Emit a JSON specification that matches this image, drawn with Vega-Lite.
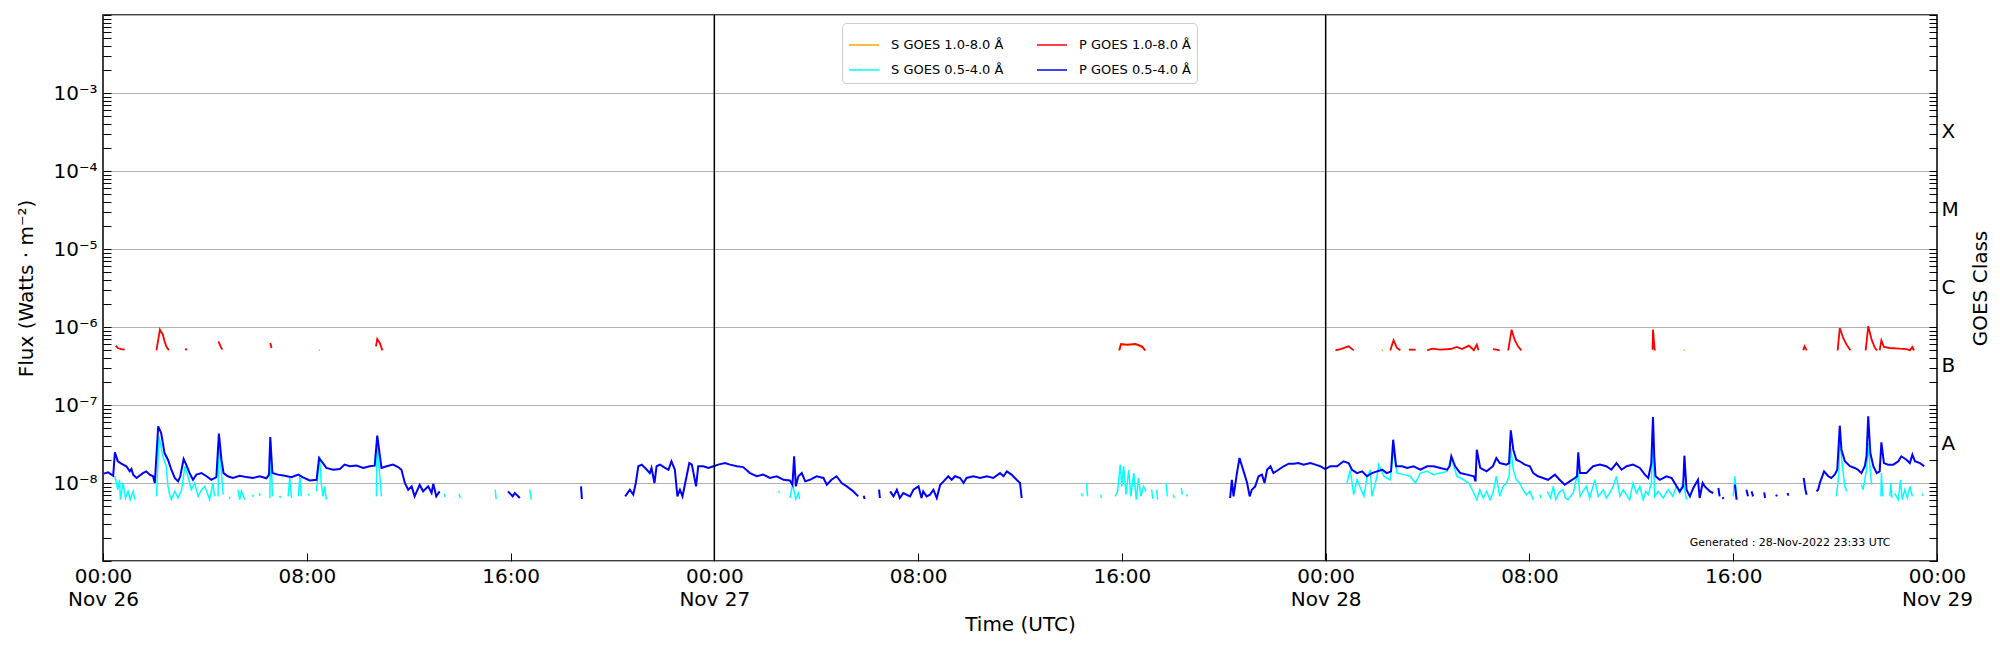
{
  "$schema": "https://vega.github.io/schema/vega-lite/v6.json",
  "width": 1834,
  "height": 546,
  "autosize": {"type": "none"},
  "padding": {"left": 103, "top": 15, "right": 63, "bottom": 89},
  "config": {
    "font": "DejaVu Sans",
    "view": {"stroke": "black", "strokeWidth": 1.5},
    "axis": {"labelColor": "black", "titleColor": "black", "tickColor": "black", "domain": false, "titleFontWeight": "normal", "labelOverlap": false, "labelBound": false}
  },
  "data": {
    "values": [
      {"s":"P054","g":1,"t":"2022-11-26T00:02:00Z","f":1.32e-8},
      {"s":"P054","g":1,"t":"2022-11-26T00:12:00Z","f":1.37e-8},
      {"s":"P054","g":1,"t":"2022-11-26T00:24:00Z","f":1.24e-8},
      {"s":"P054","g":1,"t":"2022-11-26T00:28:00Z","f":2.47e-8},
      {"s":"P054","g":1,"t":"2022-11-26T00:35:00Z","f":1.9e-8},
      {"s":"P054","g":1,"t":"2022-11-26T00:43:00Z","f":1.77e-8},
      {"s":"P054","g":1,"t":"2022-11-26T00:55:00Z","f":1.64e-8},
      {"s":"P054","g":1,"t":"2022-11-26T01:03:00Z","f":1.41e-8},
      {"s":"P054","g":1,"t":"2022-11-26T01:07:00Z","f":1.51e-8},
      {"s":"P054","g":1,"t":"2022-11-26T01:11:00Z","f":1.28e-8},
      {"s":"P054","g":1,"t":"2022-11-26T01:19:00Z","f":1.16e-8},
      {"s":"P054","g":1,"t":"2022-11-26T01:26:00Z","f":1.24e-8},
      {"s":"P054","g":1,"t":"2022-11-26T01:34:00Z","f":1.34e-8},
      {"s":"P054","g":1,"t":"2022-11-26T01:42:00Z","f":1.41e-8},
      {"s":"P054","g":1,"t":"2022-11-26T01:50:00Z","f":1.28e-8},
      {"s":"P054","g":1,"t":"2022-11-26T01:58:00Z","f":1.22e-8},
      {"s":"P054","g":1,"t":"2022-11-26T02:02:00Z","f":1.0e-8},
      {"s":"P054","g":1,"t":"2022-11-26T02:10:00Z","f":5.33e-8},
      {"s":"P054","g":1,"t":"2022-11-26T02:17:00Z","f":4.38e-8},
      {"s":"P054","g":1,"t":"2022-11-26T02:25:00Z","f":2.42e-8},
      {"s":"P054","g":1,"t":"2022-11-26T02:33:00Z","f":1.99e-8},
      {"s":"P054","g":1,"t":"2022-11-26T02:41:00Z","f":1.48e-8},
      {"s":"P054","g":1,"t":"2022-11-26T02:49:00Z","f":1.16e-8},
      {"s":"P054","g":1,"t":"2022-11-26T02:57:00Z","f":1.05e-8},
      {"s":"P054","g":1,"t":"2022-11-26T03:02:00Z","f":1.22e-8},
      {"s":"P054","g":1,"t":"2022-11-26T03:10:00Z","f":2.03e-8},
      {"s":"P054","g":1,"t":"2022-11-26T03:16:00Z","f":1.72e-8},
      {"s":"P054","g":1,"t":"2022-11-26T03:24:00Z","f":1.34e-8},
      {"s":"P054","g":1,"t":"2022-11-26T03:32:00Z","f":1.1e-8},
      {"s":"P054","g":1,"t":"2022-11-26T03:40:00Z","f":1.28e-8},
      {"s":"P054","g":1,"t":"2022-11-26T03:52:00Z","f":1.34e-8},
      {"s":"P054","g":1,"t":"2022-11-26T04:04:00Z","f":1.22e-8},
      {"s":"P054","g":1,"t":"2022-11-26T04:15:00Z","f":1.1e-8},
      {"s":"P054","g":1,"t":"2022-11-26T04:27:00Z","f":1.19e-8},
      {"s":"P054","g":1,"t":"2022-11-26T04:33:00Z","f":4.29e-8},
      {"s":"P054","g":1,"t":"2022-11-26T04:39:00Z","f":1.99e-8},
      {"s":"P054","g":1,"t":"2022-11-26T04:44:00Z","f":1.34e-8},
      {"s":"P054","g":1,"t":"2022-11-26T04:54:00Z","f":1.22e-8},
      {"s":"P054","g":1,"t":"2022-11-26T05:06:00Z","f":1.16e-8},
      {"s":"P054","g":1,"t":"2022-11-26T05:22:00Z","f":1.24e-8},
      {"s":"P054","g":1,"t":"2022-11-26T05:38:00Z","f":1.19e-8},
      {"s":"P054","g":1,"t":"2022-11-26T05:53:00Z","f":1.16e-8},
      {"s":"P054","g":1,"t":"2022-11-26T06:09:00Z","f":1.22e-8},
      {"s":"P054","g":1,"t":"2022-11-26T06:25:00Z","f":1.15e-8},
      {"s":"P054","g":1,"t":"2022-11-26T06:31:00Z","f":1.28e-8},
      {"s":"P054","g":1,"t":"2022-11-26T06:34:00Z","f":3.89e-8},
      {"s":"P054","g":1,"t":"2022-11-26T06:39:00Z","f":1.34e-8},
      {"s":"P054","g":1,"t":"2022-11-26T06:52:00Z","f":1.28e-8},
      {"s":"P054","g":1,"t":"2022-11-26T07:08:00Z","f":1.24e-8},
      {"s":"P054","g":1,"t":"2022-11-26T07:24:00Z","f":1.19e-8},
      {"s":"P054","g":1,"t":"2022-11-26T07:40:00Z","f":1.28e-8},
      {"s":"P054","g":1,"t":"2022-11-26T07:51:00Z","f":1.18e-8},
      {"s":"P054","g":1,"t":"2022-11-26T08:07:00Z","f":1.08e-8},
      {"s":"P054","g":1,"t":"2022-11-26T08:23:00Z","f":1.1e-8},
      {"s":"P054","g":1,"t":"2022-11-26T08:29:00Z","f":2.09e-8},
      {"s":"P054","g":1,"t":"2022-11-26T08:38:00Z","f":1.8e-8},
      {"s":"P054","g":1,"t":"2022-11-26T08:46:00Z","f":1.56e-8},
      {"s":"P054","g":1,"t":"2022-11-26T09:02:00Z","f":1.48e-8},
      {"s":"P054","g":1,"t":"2022-11-26T09:18:00Z","f":1.51e-8},
      {"s":"P054","g":1,"t":"2022-11-26T09:29:00Z","f":1.72e-8},
      {"s":"P054","g":1,"t":"2022-11-26T09:41:00Z","f":1.64e-8},
      {"s":"P054","g":1,"t":"2022-11-26T09:57:00Z","f":1.67e-8},
      {"s":"P054","g":1,"t":"2022-11-26T10:13:00Z","f":1.56e-8},
      {"s":"P054","g":1,"t":"2022-11-26T10:28:00Z","f":1.64e-8},
      {"s":"P054","g":1,"t":"2022-11-26T10:40:00Z","f":1.67e-8},
      {"s":"P054","g":1,"t":"2022-11-26T10:46:00Z","f":4.04e-8},
      {"s":"P054","g":1,"t":"2022-11-26T10:56:00Z","f":1.56e-8},
      {"s":"P054","g":1,"t":"2022-11-26T11:08:00Z","f":1.64e-8},
      {"s":"P054","g":1,"t":"2022-11-26T11:23:00Z","f":1.72e-8},
      {"s":"P054","g":1,"t":"2022-11-26T11:35:00Z","f":1.6e-8},
      {"s":"P054","g":1,"t":"2022-11-26T11:43:00Z","f":1.48e-8},
      {"s":"P054","g":1,"t":"2022-11-26T11:51:00Z","f":1.0e-8},
      {"s":"P054","g":1,"t":"2022-11-26T11:59:00Z","f":8.2e-9},
      {"s":"P054","g":1,"t":"2022-11-26T12:07:00Z","f":9.06e-9},
      {"s":"P054","g":1,"t":"2022-11-26T12:14:00Z","f":6.74e-9},
      {"s":"P054","g":1,"t":"2022-11-26T12:26:00Z","f":9.5e-9},
      {"s":"P054","g":1,"t":"2022-11-26T12:34:00Z","f":7.82e-9},
      {"s":"P054","g":1,"t":"2022-11-26T12:46:00Z","f":9.06e-9},
      {"s":"P054","g":1,"t":"2022-11-26T12:54:00Z","f":7.44e-9},
      {"s":"P054","g":1,"t":"2022-11-26T12:58:00Z","f":9.8e-9},
      {"s":"P054","g":1,"t":"2022-11-26T13:05:00Z","f":6.74e-9},
      {"s":"P054","g":1,"t":"2022-11-26T13:13:00Z","f":7.82e-9},
      {"s":"P054","g":2,"t":"2022-11-26T15:54:00Z","f":7.82e-9},
      {"s":"P054","g":2,"t":"2022-11-26T16:05:00Z","f":6.74e-9},
      {"s":"P054","g":2,"t":"2022-11-26T16:10:00Z","f":7.44e-9},
      {"s":"P054","g":2,"t":"2022-11-26T16:22:00Z","f":6.42e-9},
      {"s":"P054","g":3,"t":"2022-11-26T18:46:00Z","f":9.06e-9},
      {"s":"P054","g":3,"t":"2022-11-26T18:48:00Z","f":6.24e-9},
      {"s":"P054","g":4,"t":"2022-11-26T20:30:00Z","f":6.74e-9},
      {"s":"P054","g":4,"t":"2022-11-26T20:41:00Z","f":8.2e-9},
      {"s":"P054","g":4,"t":"2022-11-26T20:49:00Z","f":7.09e-9},
      {"s":"P054","g":4,"t":"2022-11-26T20:55:00Z","f":1.0e-8},
      {"s":"P054","g":4,"t":"2022-11-26T21:01:00Z","f":1.64e-8},
      {"s":"P054","g":4,"t":"2022-11-26T21:09:00Z","f":1.72e-8},
      {"s":"P054","g":4,"t":"2022-11-26T21:21:00Z","f":1.48e-8},
      {"s":"P054","g":4,"t":"2022-11-26T21:28:00Z","f":1.34e-8},
      {"s":"P054","g":4,"t":"2022-11-26T21:32:00Z","f":1.56e-8},
      {"s":"P054","g":4,"t":"2022-11-26T21:39:00Z","f":1.0e-8},
      {"s":"P054","g":4,"t":"2022-11-26T21:44:00Z","f":1.64e-8},
      {"s":"P054","g":4,"t":"2022-11-26T21:52:00Z","f":1.72e-8},
      {"s":"P054","g":4,"t":"2022-11-26T22:04:00Z","f":1.56e-8},
      {"s":"P054","g":4,"t":"2022-11-26T22:12:00Z","f":1.48e-8},
      {"s":"P054","g":4,"t":"2022-11-26T22:19:00Z","f":1.9e-8},
      {"s":"P054","g":4,"t":"2022-11-26T22:27:00Z","f":1.48e-8},
      {"s":"P054","g":4,"t":"2022-11-26T22:33:00Z","f":6.74e-9},
      {"s":"P054","g":4,"t":"2022-11-26T22:39:00Z","f":8.2e-9},
      {"s":"P054","g":4,"t":"2022-11-26T22:45:00Z","f":6.74e-9},
      {"s":"P054","g":4,"t":"2022-11-26T22:53:00Z","f":1.1e-8},
      {"s":"P054","g":4,"t":"2022-11-26T23:01:00Z","f":1.8e-8},
      {"s":"P054","g":4,"t":"2022-11-26T23:07:00Z","f":1.72e-8},
      {"s":"P054","g":4,"t":"2022-11-26T23:17:00Z","f":9.06e-9},
      {"s":"P054","g":4,"t":"2022-11-26T23:22:00Z","f":1.64e-8},
      {"s":"P054","g":4,"t":"2022-11-26T23:34:00Z","f":1.64e-8},
      {"s":"P054","g":4,"t":"2022-11-26T23:46:00Z","f":1.56e-8},
      {"s":"P054","g":4,"t":"2022-11-26T23:58:00Z","f":1.64e-8},
      {"s":"P054","g":4,"t":"2022-11-27T00:09:00Z","f":1.72e-8},
      {"s":"P054","g":4,"t":"2022-11-27T00:25:00Z","f":1.8e-8},
      {"s":"P054","g":4,"t":"2022-11-27T00:37:00Z","f":1.72e-8},
      {"s":"P054","g":4,"t":"2022-11-27T00:53:00Z","f":1.64e-8},
      {"s":"P054","g":4,"t":"2022-11-27T01:08:00Z","f":1.6e-8},
      {"s":"P054","g":4,"t":"2022-11-27T01:24:00Z","f":1.34e-8},
      {"s":"P054","g":4,"t":"2022-11-27T01:40:00Z","f":1.22e-8},
      {"s":"P054","g":4,"t":"2022-11-27T01:55:00Z","f":1.28e-8},
      {"s":"P054","g":4,"t":"2022-11-27T02:11:00Z","f":1.16e-8},
      {"s":"P054","g":4,"t":"2022-11-27T02:27:00Z","f":1.22e-8},
      {"s":"P054","g":4,"t":"2022-11-27T02:43:00Z","f":1.1e-8},
      {"s":"P054","g":4,"t":"2022-11-27T02:58:00Z","f":1.08e-8},
      {"s":"P054","g":4,"t":"2022-11-27T03:04:00Z","f":9.5e-9},
      {"s":"P054","g":4,"t":"2022-11-27T03:08:00Z","f":2.2e-8},
      {"s":"P054","g":4,"t":"2022-11-27T03:12:00Z","f":9.06e-9},
      {"s":"P054","g":4,"t":"2022-11-27T03:18:00Z","f":1.22e-8},
      {"s":"P054","g":4,"t":"2022-11-27T03:26:00Z","f":1.34e-8},
      {"s":"P054","g":4,"t":"2022-11-27T03:34:00Z","f":1.05e-8},
      {"s":"P054","g":4,"t":"2022-11-27T03:45:00Z","f":1.1e-8},
      {"s":"P054","g":4,"t":"2022-11-27T04:01:00Z","f":1.22e-8},
      {"s":"P054","g":4,"t":"2022-11-27T04:17:00Z","f":1.16e-8},
      {"s":"P054","g":4,"t":"2022-11-27T04:25:00Z","f":9.5e-9},
      {"s":"P054","g":4,"t":"2022-11-27T04:36:00Z","f":1.1e-8},
      {"s":"P054","g":4,"t":"2022-11-27T04:48:00Z","f":1.22e-8},
      {"s":"P054","g":4,"t":"2022-11-27T05:00:00Z","f":1.0e-8},
      {"s":"P054","g":4,"t":"2022-11-27T05:12:00Z","f":9.06e-9},
      {"s":"P054","g":4,"t":"2022-11-27T05:27:00Z","f":7.82e-9},
      {"s":"P054","g":4,"t":"2022-11-27T05:39:00Z","f":6.74e-9},
      {"s":"P054","g":5,"t":"2022-11-27T05:52:00Z","f":6.88e-9},
      {"s":"P054","g":5,"t":"2022-11-27T05:54:00Z","f":6.24e-9},
      {"s":"P054","g":6,"t":"2022-11-27T06:28:00Z","f":8.2e-9},
      {"s":"P054","g":6,"t":"2022-11-27T06:30:00Z","f":6.42e-9},
      {"s":"P054","g":7,"t":"2022-11-27T06:54:00Z","f":7.82e-9},
      {"s":"P054","g":7,"t":"2022-11-27T07:02:00Z","f":6.74e-9},
      {"s":"P054","g":7,"t":"2022-11-27T07:10:00Z","f":8.2e-9},
      {"s":"P054","g":7,"t":"2022-11-27T07:17:00Z","f":6.42e-9},
      {"s":"P054","g":7,"t":"2022-11-27T07:25:00Z","f":7.44e-9},
      {"s":"P054","g":7,"t":"2022-11-27T07:41:00Z","f":6.74e-9},
      {"s":"P054","g":7,"t":"2022-11-27T07:49:00Z","f":8.2e-9},
      {"s":"P054","g":7,"t":"2022-11-27T08:01:00Z","f":9.06e-9},
      {"s":"P054","g":7,"t":"2022-11-27T08:08:00Z","f":6.42e-9},
      {"s":"P054","g":7,"t":"2022-11-27T08:12:00Z","f":7.82e-9},
      {"s":"P054","g":7,"t":"2022-11-27T08:20:00Z","f":6.74e-9},
      {"s":"P054","g":7,"t":"2022-11-27T08:28:00Z","f":7.09e-9},
      {"s":"P054","g":7,"t":"2022-11-27T08:36:00Z","f":8.2e-9},
      {"s":"P054","g":7,"t":"2022-11-27T08:44:00Z","f":6.42e-9},
      {"s":"P054","g":7,"t":"2022-11-27T08:52:00Z","f":9.5e-9},
      {"s":"P054","g":7,"t":"2022-11-27T09:00:00Z","f":1.05e-8},
      {"s":"P054","g":7,"t":"2022-11-27T09:11:00Z","f":1.22e-8},
      {"s":"P054","g":7,"t":"2022-11-27T09:19:00Z","f":1.1e-8},
      {"s":"P054","g":7,"t":"2022-11-27T09:27:00Z","f":1.22e-8},
      {"s":"P054","g":7,"t":"2022-11-27T09:39:00Z","f":1.16e-8},
      {"s":"P054","g":7,"t":"2022-11-27T09:47:00Z","f":1.0e-8},
      {"s":"P054","g":7,"t":"2022-11-27T09:54:00Z","f":1.16e-8},
      {"s":"P054","g":7,"t":"2022-11-27T10:10:00Z","f":1.22e-8},
      {"s":"P054","g":7,"t":"2022-11-27T10:26:00Z","f":1.16e-8},
      {"s":"P054","g":7,"t":"2022-11-27T10:42:00Z","f":1.22e-8},
      {"s":"P054","g":7,"t":"2022-11-27T10:57:00Z","f":1.16e-8},
      {"s":"P054","g":7,"t":"2022-11-27T11:13:00Z","f":1.34e-8},
      {"s":"P054","g":7,"t":"2022-11-27T11:21:00Z","f":1.22e-8},
      {"s":"P054","g":7,"t":"2022-11-27T11:29:00Z","f":1.41e-8},
      {"s":"P054","g":7,"t":"2022-11-27T11:40:00Z","f":1.28e-8},
      {"s":"P054","g":7,"t":"2022-11-27T11:52:00Z","f":1.1e-8},
      {"s":"P054","g":7,"t":"2022-11-27T12:00:00Z","f":1.0e-8},
      {"s":"P054","g":7,"t":"2022-11-27T12:04:00Z","f":6.42e-9},
      {"s":"P054","g":8,"t":"2022-11-27T20:15:00Z","f":6.42e-9},
      {"s":"P054","g":8,"t":"2022-11-27T20:19:00Z","f":1.1e-8},
      {"s":"P054","g":8,"t":"2022-11-27T20:23:00Z","f":6.74e-9},
      {"s":"P054","g":8,"t":"2022-11-27T20:31:00Z","f":1.34e-8},
      {"s":"P054","g":8,"t":"2022-11-27T20:37:00Z","f":2.09e-8},
      {"s":"P054","g":8,"t":"2022-11-27T20:43:00Z","f":1.64e-8},
      {"s":"P054","g":8,"t":"2022-11-27T20:48:00Z","f":1.34e-8},
      {"s":"P054","g":8,"t":"2022-11-27T20:55:00Z","f":1.0e-8},
      {"s":"P054","g":8,"t":"2022-11-27T21:01:00Z","f":6.74e-9},
      {"s":"P054","g":8,"t":"2022-11-27T21:06:00Z","f":8.2e-9},
      {"s":"P054","g":8,"t":"2022-11-27T21:14:00Z","f":9.06e-9},
      {"s":"P054","g":8,"t":"2022-11-27T21:22:00Z","f":1.22e-8},
      {"s":"P054","g":8,"t":"2022-11-27T21:30:00Z","f":1.28e-8},
      {"s":"P054","g":8,"t":"2022-11-27T21:36:00Z","f":1.0e-8},
      {"s":"P054","g":8,"t":"2022-11-27T21:42:00Z","f":1.48e-8},
      {"s":"P054","g":8,"t":"2022-11-27T21:50:00Z","f":1.64e-8},
      {"s":"P054","g":8,"t":"2022-11-27T21:57:00Z","f":1.34e-8},
      {"s":"P054","g":8,"t":"2022-11-27T22:09:00Z","f":1.48e-8},
      {"s":"P054","g":8,"t":"2022-11-27T22:21:00Z","f":1.64e-8},
      {"s":"P054","g":8,"t":"2022-11-27T22:33:00Z","f":1.77e-8},
      {"s":"P054","g":8,"t":"2022-11-27T22:45:00Z","f":1.77e-8},
      {"s":"P054","g":8,"t":"2022-11-27T22:56:00Z","f":1.8e-8},
      {"s":"P054","g":8,"t":"2022-11-27T23:08:00Z","f":1.72e-8},
      {"s":"P054","g":8,"t":"2022-11-27T23:24:00Z","f":1.8e-8},
      {"s":"P054","g":8,"t":"2022-11-27T23:36:00Z","f":1.72e-8},
      {"s":"P054","g":8,"t":"2022-11-27T23:47:00Z","f":1.64e-8},
      {"s":"P054","g":8,"t":"2022-11-27T23:59:00Z","f":1.51e-8},
      {"s":"P054","g":8,"t":"2022-11-28T00:11:00Z","f":1.64e-8},
      {"s":"P054","g":8,"t":"2022-11-28T00:27:00Z","f":1.64e-8},
      {"s":"P054","g":8,"t":"2022-11-28T00:42:00Z","f":1.9e-8},
      {"s":"P054","g":8,"t":"2022-11-28T00:54:00Z","f":1.8e-8},
      {"s":"P054","g":8,"t":"2022-11-28T01:02:00Z","f":1.48e-8},
      {"s":"P054","g":8,"t":"2022-11-28T01:14:00Z","f":1.34e-8},
      {"s":"P054","g":8,"t":"2022-11-28T01:26:00Z","f":1.41e-8},
      {"s":"P054","g":8,"t":"2022-11-28T01:37:00Z","f":1.22e-8},
      {"s":"P054","g":8,"t":"2022-11-28T01:49:00Z","f":1.34e-8},
      {"s":"P054","g":8,"t":"2022-11-28T02:01:00Z","f":1.41e-8},
      {"s":"P054","g":8,"t":"2022-11-28T02:13:00Z","f":1.48e-8},
      {"s":"P054","g":8,"t":"2022-11-28T02:24:00Z","f":1.34e-8},
      {"s":"P054","g":8,"t":"2022-11-28T02:34:00Z","f":1.41e-8},
      {"s":"P054","g":8,"t":"2022-11-28T02:39:00Z","f":3.59e-8},
      {"s":"P054","g":8,"t":"2022-11-28T02:46:00Z","f":1.64e-8},
      {"s":"P054","g":8,"t":"2022-11-28T03:00:00Z","f":1.64e-8},
      {"s":"P054","g":8,"t":"2022-11-28T03:12:00Z","f":1.56e-8},
      {"s":"P054","g":8,"t":"2022-11-28T03:27:00Z","f":1.64e-8},
      {"s":"P054","g":8,"t":"2022-11-28T03:43:00Z","f":1.48e-8},
      {"s":"P054","g":8,"t":"2022-11-28T03:59:00Z","f":1.64e-8},
      {"s":"P054","g":8,"t":"2022-11-28T04:14:00Z","f":1.64e-8},
      {"s":"P054","g":8,"t":"2022-11-28T04:30:00Z","f":1.56e-8},
      {"s":"P054","g":8,"t":"2022-11-28T04:46:00Z","f":1.48e-8},
      {"s":"P054","g":8,"t":"2022-11-28T04:52:00Z","f":1.64e-8},
      {"s":"P054","g":8,"t":"2022-11-28T04:56:00Z","f":2.2e-8},
      {"s":"P054","g":8,"t":"2022-11-28T05:05:00Z","f":1.64e-8},
      {"s":"P054","g":8,"t":"2022-11-28T05:17:00Z","f":1.34e-8},
      {"s":"P054","g":8,"t":"2022-11-28T05:33:00Z","f":1.28e-8},
      {"s":"P054","g":8,"t":"2022-11-28T05:49:00Z","f":1.22e-8},
      {"s":"P054","g":8,"t":"2022-11-28T05:53:00Z","f":1.05e-8},
      {"s":"P054","g":8,"t":"2022-11-28T05:56:00Z","f":2.67e-8},
      {"s":"P054","g":8,"t":"2022-11-28T06:04:00Z","f":1.56e-8},
      {"s":"P054","g":8,"t":"2022-11-28T06:19:00Z","f":1.41e-8},
      {"s":"P054","g":8,"t":"2022-11-28T06:34:00Z","f":1.64e-8},
      {"s":"P054","g":8,"t":"2022-11-28T06:42:00Z","f":2.09e-8},
      {"s":"P054","g":8,"t":"2022-11-28T06:50:00Z","f":1.8e-8},
      {"s":"P054","g":8,"t":"2022-11-28T07:06:00Z","f":1.72e-8},
      {"s":"P054","g":8,"t":"2022-11-28T07:12:00Z","f":1.8e-8},
      {"s":"P054","g":8,"t":"2022-11-28T07:16:00Z","f":4.73e-8},
      {"s":"P054","g":8,"t":"2022-11-28T07:22:00Z","f":2.67e-8},
      {"s":"P054","g":8,"t":"2022-11-28T07:29:00Z","f":1.99e-8},
      {"s":"P054","g":8,"t":"2022-11-28T07:37:00Z","f":1.9e-8},
      {"s":"P054","g":8,"t":"2022-11-28T07:49:00Z","f":1.72e-8},
      {"s":"P054","g":8,"t":"2022-11-28T08:01:00Z","f":1.64e-8},
      {"s":"P054","g":8,"t":"2022-11-28T08:09:00Z","f":1.34e-8},
      {"s":"P054","g":8,"t":"2022-11-28T08:20:00Z","f":1.22e-8},
      {"s":"P054","g":8,"t":"2022-11-28T08:32:00Z","f":1.16e-8},
      {"s":"P054","g":8,"t":"2022-11-28T08:44:00Z","f":1.1e-8},
      {"s":"P054","g":8,"t":"2022-11-28T09:00:00Z","f":1.28e-8},
      {"s":"P054","g":8,"t":"2022-11-28T09:11:00Z","f":1.1e-8},
      {"s":"P054","g":8,"t":"2022-11-28T09:23:00Z","f":9.5e-9},
      {"s":"P054","g":8,"t":"2022-11-28T09:35:00Z","f":1.05e-8},
      {"s":"P054","g":8,"t":"2022-11-28T09:47:00Z","f":1.16e-8},
      {"s":"P054","g":8,"t":"2022-11-28T09:52:00Z","f":1.22e-8},
      {"s":"P054","g":8,"t":"2022-11-28T09:55:00Z","f":2.47e-8},
      {"s":"P054","g":8,"t":"2022-11-28T09:59:00Z","f":1.34e-8},
      {"s":"P054","g":8,"t":"2022-11-28T10:14:00Z","f":1.34e-8},
      {"s":"P054","g":8,"t":"2022-11-28T10:30:00Z","f":1.64e-8},
      {"s":"P054","g":8,"t":"2022-11-28T10:46:00Z","f":1.72e-8},
      {"s":"P054","g":8,"t":"2022-11-28T11:01:00Z","f":1.64e-8},
      {"s":"P054","g":8,"t":"2022-11-28T11:13:00Z","f":1.48e-8},
      {"s":"P054","g":8,"t":"2022-11-28T11:25:00Z","f":1.8e-8},
      {"s":"P054","g":8,"t":"2022-11-28T11:37:00Z","f":1.48e-8},
      {"s":"P054","g":8,"t":"2022-11-28T11:49:00Z","f":1.64e-8},
      {"s":"P054","g":8,"t":"2022-11-28T12:04:00Z","f":1.72e-8},
      {"s":"P054","g":8,"t":"2022-11-28T12:20:00Z","f":1.56e-8},
      {"s":"P054","g":8,"t":"2022-11-28T12:32:00Z","f":1.28e-8},
      {"s":"P054","g":8,"t":"2022-11-28T12:40:00Z","f":1.16e-8},
      {"s":"P054","g":8,"t":"2022-11-28T12:47:00Z","f":1.8e-8},
      {"s":"P054","g":8,"t":"2022-11-28T12:51:00Z","f":7.02e-8},
      {"s":"P054","g":8,"t":"2022-11-28T12:54:00Z","f":2.2e-8},
      {"s":"P054","g":8,"t":"2022-11-28T12:57:00Z","f":1.22e-8},
      {"s":"P054","g":8,"t":"2022-11-28T13:07:00Z","f":1.1e-8},
      {"s":"P054","g":8,"t":"2022-11-28T13:23:00Z","f":1.22e-8},
      {"s":"P054","g":8,"t":"2022-11-28T13:35:00Z","f":1.16e-8},
      {"s":"P054","g":8,"t":"2022-11-28T13:42:00Z","f":1.0e-8},
      {"s":"P054","g":8,"t":"2022-11-28T13:54:00Z","f":7.82e-9},
      {"s":"P054","g":8,"t":"2022-11-28T14:02:00Z","f":9.06e-9},
      {"s":"P054","g":8,"t":"2022-11-28T14:05:00Z","f":2.24e-8},
      {"s":"P054","g":8,"t":"2022-11-28T14:10:00Z","f":8.2e-9},
      {"s":"P054","g":8,"t":"2022-11-28T14:18:00Z","f":6.74e-9},
      {"s":"P054","g":8,"t":"2022-11-28T14:26:00Z","f":8.63e-9},
      {"s":"P054","g":8,"t":"2022-11-28T14:37:00Z","f":1.1e-8},
      {"s":"P054","g":8,"t":"2022-11-28T14:41:00Z","f":6.42e-9},
      {"s":"P054","g":8,"t":"2022-11-28T14:48:00Z","f":1.0e-8},
      {"s":"P054","g":8,"t":"2022-11-28T14:53:00Z","f":9.06e-9},
      {"s":"P054","g":8,"t":"2022-11-28T15:05:00Z","f":7.82e-9},
      {"s":"P054","g":8,"t":"2022-11-28T15:13:00Z","f":7.44e-9},
      {"s":"P054","g":9,"t":"2022-11-28T15:25:00Z","f":8.63e-9},
      {"s":"P054","g":9,"t":"2022-11-28T15:28:00Z","f":6.74e-9},
      {"s":"P054","g":10,"t":"2022-11-28T15:35:00Z","f":6.6e-9},
      {"s":"P054","g":10,"t":"2022-11-28T15:37:00Z","f":6.24e-9},
      {"s":"P054","g":11,"t":"2022-11-28T16:04:00Z","f":9.5e-9},
      {"s":"P054","g":11,"t":"2022-11-28T16:08:00Z","f":6.12e-9},
      {"s":"P054","g":12,"t":"2022-11-28T16:31:00Z","f":8.2e-9},
      {"s":"P054","g":12,"t":"2022-11-28T16:35:00Z","f":6.74e-9},
      {"s":"P054","g":13,"t":"2022-11-28T16:43:00Z","f":7.82e-9},
      {"s":"P054","g":13,"t":"2022-11-28T16:47:00Z","f":6.74e-9},
      {"s":"P054","g":14,"t":"2022-11-28T17:13:00Z","f":7.6e-9},
      {"s":"P054","g":14,"t":"2022-11-28T17:15:00Z","f":6.42e-9},
      {"s":"P054","g":15,"t":"2022-11-28T17:41:00Z","f":7.09e-9},
      {"s":"P054","g":15,"t":"2022-11-28T17:43:00Z","f":6.74e-9},
      {"s":"P054","g":16,"t":"2022-11-28T18:08:00Z","f":7.44e-9},
      {"s":"P054","g":16,"t":"2022-11-28T18:10:00Z","f":6.88e-9},
      {"s":"P054","g":17,"t":"2022-11-28T18:46:00Z","f":1.16e-8},
      {"s":"P054","g":17,"t":"2022-11-28T18:50:00Z","f":8.2e-9},
      {"s":"P054","g":17,"t":"2022-11-28T18:53:00Z","f":7.09e-9},
      {"s":"P054","g":18,"t":"2022-11-28T19:16:00Z","f":7.82e-9},
      {"s":"P054","g":18,"t":"2022-11-28T19:20:00Z","f":8.2e-9},
      {"s":"P054","g":18,"t":"2022-11-28T19:24:00Z","f":1.0e-8},
      {"s":"P054","g":18,"t":"2022-11-28T19:34:00Z","f":1.41e-8},
      {"s":"P054","g":18,"t":"2022-11-28T19:44:00Z","f":1.22e-8},
      {"s":"P054","g":18,"t":"2022-11-28T19:51:00Z","f":1.16e-8},
      {"s":"P054","g":18,"t":"2022-11-28T19:59:00Z","f":1.28e-8},
      {"s":"P054","g":18,"t":"2022-11-28T20:05:00Z","f":1.48e-8},
      {"s":"P054","g":18,"t":"2022-11-28T20:11:00Z","f":5.43e-8},
      {"s":"P054","g":18,"t":"2022-11-28T20:15:00Z","f":2.67e-8},
      {"s":"P054","g":18,"t":"2022-11-28T20:23:00Z","f":1.9e-8},
      {"s":"P054","g":18,"t":"2022-11-28T20:35:00Z","f":1.64e-8},
      {"s":"P054","g":18,"t":"2022-11-28T20:46:00Z","f":1.56e-8},
      {"s":"P054","g":18,"t":"2022-11-28T20:54:00Z","f":1.48e-8},
      {"s":"P054","g":18,"t":"2022-11-28T21:02:00Z","f":1.34e-8},
      {"s":"P054","g":18,"t":"2022-11-28T21:10:00Z","f":1.64e-8},
      {"s":"P054","g":18,"t":"2022-11-28T21:14:00Z","f":2.2e-8},
      {"s":"P054","g":18,"t":"2022-11-28T21:18:00Z","f":7.16e-8},
      {"s":"P054","g":18,"t":"2022-11-28T21:23:00Z","f":2.42e-8},
      {"s":"P054","g":18,"t":"2022-11-28T21:30:00Z","f":1.64e-8},
      {"s":"P054","g":18,"t":"2022-11-28T21:38:00Z","f":1.34e-8},
      {"s":"P054","g":18,"t":"2022-11-28T21:45:00Z","f":1.41e-8},
      {"s":"P054","g":18,"t":"2022-11-28T21:49:00Z","f":3.32e-8},
      {"s":"P054","g":18,"t":"2022-11-28T21:55:00Z","f":1.8e-8},
      {"s":"P054","g":18,"t":"2022-11-28T22:05:00Z","f":1.72e-8},
      {"s":"P054","g":18,"t":"2022-11-28T22:17:00Z","f":1.72e-8},
      {"s":"P054","g":18,"t":"2022-11-28T22:29:00Z","f":1.9e-8},
      {"s":"P054","g":18,"t":"2022-11-28T22:36:00Z","f":2.2e-8},
      {"s":"P054","g":18,"t":"2022-11-28T22:48:00Z","f":1.99e-8},
      {"s":"P054","g":18,"t":"2022-11-28T22:56:00Z","f":1.8e-8},
      {"s":"P054","g":18,"t":"2022-11-28T23:02:00Z","f":2.31e-8},
      {"s":"P054","g":18,"t":"2022-11-28T23:08:00Z","f":1.9e-8},
      {"s":"P054","g":18,"t":"2022-11-28T23:20:00Z","f":1.8e-8},
      {"s":"P054","g":18,"t":"2022-11-28T23:30:00Z","f":1.64e-8},

      {"s":"P18","g":1,"t":"2022-11-26T00:30:00Z","f":5.77e-7},
      {"s":"P18","g":1,"t":"2022-11-26T00:35:00Z","f":5.38e-7},
      {"s":"P18","g":1,"t":"2022-11-26T00:43:00Z","f":5.22e-7},
      {"s":"P18","g":1,"t":"2022-11-26T00:51:00Z","f":5.12e-7},
      {"s":"P18","g":2,"t":"2022-11-26T02:06:00Z","f":5.02e-7},
      {"s":"P18","g":2,"t":"2022-11-26T02:14:00Z","f":9.24e-7},
      {"s":"P18","g":2,"t":"2022-11-26T02:21:00Z","f":7.97e-7},
      {"s":"P18","g":2,"t":"2022-11-26T02:25:00Z","f":6.55e-7},
      {"s":"P18","g":2,"t":"2022-11-26T02:29:00Z","f":5.65e-7},
      {"s":"P18","g":2,"t":"2022-11-26T02:35:00Z","f":5.02e-7},
      {"s":"P18","g":3,"t":"2022-11-26T03:13:00Z","f":5.22e-7},
      {"s":"P18","g":3,"t":"2022-11-26T03:18:00Z","f":5.12e-7},
      {"s":"P18","g":4,"t":"2022-11-26T04:32:00Z","f":6.55e-7},
      {"s":"P18","g":4,"t":"2022-11-26T04:37:00Z","f":5.65e-7},
      {"s":"P18","g":4,"t":"2022-11-26T04:41:00Z","f":5.12e-7},
      {"s":"P18","g":5,"t":"2022-11-26T06:34:00Z","f":6.24e-7},
      {"s":"P18","g":5,"t":"2022-11-26T06:37:00Z","f":5.38e-7},
      {"s":"P18","g":6,"t":"2022-11-26T10:43:00Z","f":5.65e-7},
      {"s":"P18","g":6,"t":"2022-11-26T10:46:00Z","f":7.02e-7},
      {"s":"P18","g":6,"t":"2022-11-26T10:52:00Z","f":6.24e-7},
      {"s":"P18","g":6,"t":"2022-11-26T10:58:00Z","f":5.02e-7},
      {"s":"P18","g":7,"t":"2022-11-27T15:54:00Z","f":5.02e-7},
      {"s":"P18","g":7,"t":"2022-11-27T15:58:00Z","f":6.06e-7},
      {"s":"P18","g":7,"t":"2022-11-27T16:12:00Z","f":5.94e-7},
      {"s":"P18","g":7,"t":"2022-11-27T16:32:00Z","f":6.06e-7},
      {"s":"P18","g":7,"t":"2022-11-27T16:47:00Z","f":5.65e-7},
      {"s":"P18","g":7,"t":"2022-11-27T16:55:00Z","f":5.02e-7},
      {"s":"P18","g":8,"t":"2022-11-28T00:23:00Z","f":5.02e-7},
      {"s":"P18","g":8,"t":"2022-11-28T00:35:00Z","f":5.22e-7},
      {"s":"P18","g":8,"t":"2022-11-28T00:54:00Z","f":5.65e-7},
      {"s":"P18","g":8,"t":"2022-11-28T01:06:00Z","f":5.02e-7},
      {"s":"P18","g":9,"t":"2022-11-28T02:32:00Z","f":5.02e-7},
      {"s":"P18","g":9,"t":"2022-11-28T02:40:00Z","f":6.75e-7},
      {"s":"P18","g":9,"t":"2022-11-28T02:48:00Z","f":5.38e-7},
      {"s":"P18","g":9,"t":"2022-11-28T02:56:00Z","f":5.02e-7},
      {"s":"P18","g":10,"t":"2022-11-28T03:16:00Z","f":5.12e-7},
      {"s":"P18","g":10,"t":"2022-11-28T03:32:00Z","f":5.12e-7},
      {"s":"P18","g":11,"t":"2022-11-28T03:59:00Z","f":5.02e-7},
      {"s":"P18","g":11,"t":"2022-11-28T04:11:00Z","f":5.27e-7},
      {"s":"P18","g":11,"t":"2022-11-28T04:30:00Z","f":5.12e-7},
      {"s":"P18","g":11,"t":"2022-11-28T04:54:00Z","f":5.22e-7},
      {"s":"P18","g":11,"t":"2022-11-28T05:09:00Z","f":5.54e-7},
      {"s":"P18","g":11,"t":"2022-11-28T05:21:00Z","f":5.22e-7},
      {"s":"P18","g":11,"t":"2022-11-28T05:37:00Z","f":5.77e-7},
      {"s":"P18","g":11,"t":"2022-11-28T05:49:00Z","f":5.02e-7},
      {"s":"P18","g":11,"t":"2022-11-28T05:56:00Z","f":5.94e-7},
      {"s":"P18","g":11,"t":"2022-11-28T06:00:00Z","f":5.02e-7},
      {"s":"P18","g":12,"t":"2022-11-28T06:34:00Z","f":5.22e-7},
      {"s":"P18","g":12,"t":"2022-11-28T06:42:00Z","f":5.12e-7},
      {"s":"P18","g":12,"t":"2022-11-28T06:50:00Z","f":5.02e-7},
      {"s":"P18","g":13,"t":"2022-11-28T07:10:00Z","f":5.02e-7},
      {"s":"P18","g":13,"t":"2022-11-28T07:18:00Z","f":9.24e-7},
      {"s":"P18","g":13,"t":"2022-11-28T07:25:00Z","f":6.88e-7},
      {"s":"P18","g":13,"t":"2022-11-28T07:33:00Z","f":5.65e-7},
      {"s":"P18","g":13,"t":"2022-11-28T07:41:00Z","f":5.02e-7},
      {"s":"P18","g":14,"t":"2022-11-28T12:50:00Z","f":5.12e-7},
      {"s":"P18","g":14,"t":"2022-11-28T12:51:00Z","f":9.24e-7},
      {"s":"P18","g":14,"t":"2022-11-28T12:54:00Z","f":5.94e-7},
      {"s":"P18","g":14,"t":"2022-11-28T12:55:00Z","f":5.02e-7},
      {"s":"P18","g":15,"t":"2022-11-28T18:45:00Z","f":5.02e-7},
      {"s":"P18","g":15,"t":"2022-11-28T18:48:00Z","f":5.65e-7},
      {"s":"P18","g":15,"t":"2022-11-28T18:53:00Z","f":5.02e-7},
      {"s":"P18","g":16,"t":"2022-11-28T20:06:00Z","f":5.02e-7},
      {"s":"P18","g":16,"t":"2022-11-28T20:11:00Z","f":9.71e-7},
      {"s":"P18","g":16,"t":"2022-11-28T20:19:00Z","f":7.23e-7},
      {"s":"P18","g":16,"t":"2022-11-28T20:27:00Z","f":5.94e-7},
      {"s":"P18","g":16,"t":"2022-11-28T20:36:00Z","f":5.02e-7},
      {"s":"P18","g":17,"t":"2022-11-28T21:12:00Z","f":5.02e-7},
      {"s":"P18","g":17,"t":"2022-11-28T21:18:00Z","f":1.02e-6},
      {"s":"P18","g":17,"t":"2022-11-28T21:26:00Z","f":6.88e-7},
      {"s":"P18","g":17,"t":"2022-11-28T21:34:00Z","f":5.38e-7},
      {"s":"P18","g":17,"t":"2022-11-28T21:39:00Z","f":5.02e-7},
      {"s":"P18","g":18,"t":"2022-11-28T21:45:00Z","f":5.02e-7},
      {"s":"P18","g":18,"t":"2022-11-28T21:49:00Z","f":6.75e-7},
      {"s":"P18","g":18,"t":"2022-11-28T21:55:00Z","f":5.54e-7},
      {"s":"P18","g":18,"t":"2022-11-28T22:09:00Z","f":5.38e-7},
      {"s":"P18","g":18,"t":"2022-11-28T22:32:00Z","f":5.27e-7},
      {"s":"P18","g":18,"t":"2022-11-28T22:48:00Z","f":5.22e-7},
      {"s":"P18","g":18,"t":"2022-11-28T22:56:00Z","f":5.02e-7},
      {"s":"P18","g":18,"t":"2022-11-28T23:02:00Z","f":5.54e-7},
      {"s":"P18","g":18,"t":"2022-11-28T23:06:00Z","f":5.02e-7},

      {"s":"S18","g":1,"t":"2022-11-26T08:28:00Z","f":5.05e-7},
      {"s":"S18","g":1,"t":"2022-11-26T08:31:00Z","f":5.05e-7},
      {"s":"S18","g":2,"t":"2022-11-27T15:53:00Z","f":5.0e-7},
      {"s":"S18","g":2,"t":"2022-11-27T15:57:00Z","f":5.9e-7},
      {"s":"S18","g":2,"t":"2022-11-27T16:12:00Z","f":5.85e-7},
      {"s":"S18","g":2,"t":"2022-11-27T16:32:00Z","f":5.95e-7},
      {"s":"S18","g":2,"t":"2022-11-27T16:48:00Z","f":5.5e-7},
      {"s":"S18","g":2,"t":"2022-11-27T16:56:00Z","f":5.0e-7},
      {"s":"S18","g":3,"t":"2022-11-28T02:12:00Z","f":5.05e-7},
      {"s":"S18","g":3,"t":"2022-11-28T02:15:00Z","f":5.05e-7},
      {"s":"S18","g":4,"t":"2022-11-28T05:30:00Z","f":5.5e-7},
      {"s":"S18","g":4,"t":"2022-11-28T05:40:00Z","f":5.7e-7},
      {"s":"S18","g":4,"t":"2022-11-28T05:50:00Z","f":5.05e-7},
      {"s":"S18","g":5,"t":"2022-11-28T12:53:00Z","f":5.6e-7},
      {"s":"S18","g":5,"t":"2022-11-28T12:56:00Z","f":5.0e-7},
      {"s":"S18","g":6,"t":"2022-11-28T14:03:00Z","f":5.05e-7},
      {"s":"S18","g":6,"t":"2022-11-28T14:06:00Z","f":5.05e-7},
      {"s":"S18","g":7,"t":"2022-11-28T23:00:00Z","f":5.4e-7},
      {"s":"S18","g":7,"t":"2022-11-28T23:05:00Z","f":5.05e-7},

      {"s":"S054","g":1,"t":"2022-11-26T00:28:00Z","f":1.22e-8},
      {"s":"S054","g":1,"t":"2022-11-26T00:35:00Z","f":8.2e-9},
      {"s":"S054","g":1,"t":"2022-11-26T00:39:00Z","f":1.1e-8},
      {"s":"S054","g":1,"t":"2022-11-26T00:41:00Z","f":6.12e-9},
      {"s":"S054","g":1,"t":"2022-11-26T00:47:00Z","f":1.0e-8},
      {"s":"S054","g":1,"t":"2022-11-26T00:53:00Z","f":6.42e-9},
      {"s":"S054","g":1,"t":"2022-11-26T00:59:00Z","f":7.82e-9},
      {"s":"S054","g":1,"t":"2022-11-26T01:04:00Z","f":6.12e-9},
      {"s":"S054","g":1,"t":"2022-11-26T01:11:00Z","f":7.82e-9},
      {"s":"S054","g":1,"t":"2022-11-26T01:15:00Z","f":6.12e-9},
      {"s":"S054","g":2,"t":"2022-11-26T02:06:00Z","f":6.74e-9},
      {"s":"S054","g":2,"t":"2022-11-26T02:12:00Z","f":3.97e-8},
      {"s":"S054","g":2,"t":"2022-11-26T02:21:00Z","f":2.2e-8},
      {"s":"S054","g":2,"t":"2022-11-26T02:29:00Z","f":1.64e-8},
      {"s":"S054","g":2,"t":"2022-11-26T02:33:00Z","f":9.06e-9},
      {"s":"S054","g":2,"t":"2022-11-26T02:37:00Z","f":7.09e-9},
      {"s":"S054","g":2,"t":"2022-11-26T02:41:00Z","f":6.12e-9},
      {"s":"S054","g":2,"t":"2022-11-26T02:49:00Z","f":7.82e-9},
      {"s":"S054","g":2,"t":"2022-11-26T02:57:00Z","f":6.42e-9},
      {"s":"S054","g":2,"t":"2022-11-26T03:05:00Z","f":8.2e-9},
      {"s":"S054","g":2,"t":"2022-11-26T03:13:00Z","f":1.64e-8},
      {"s":"S054","g":2,"t":"2022-11-26T03:20:00Z","f":1.22e-8},
      {"s":"S054","g":2,"t":"2022-11-26T03:28:00Z","f":8.2e-9},
      {"s":"S054","g":2,"t":"2022-11-26T03:36:00Z","f":1.0e-8},
      {"s":"S054","g":2,"t":"2022-11-26T03:44:00Z","f":6.74e-9},
      {"s":"S054","g":2,"t":"2022-11-26T03:52:00Z","f":8.2e-9},
      {"s":"S054","g":2,"t":"2022-11-26T04:00:00Z","f":9.06e-9},
      {"s":"S054","g":2,"t":"2022-11-26T04:11:00Z","f":6.12e-9},
      {"s":"S054","g":2,"t":"2022-11-26T04:19:00Z","f":1.0e-8},
      {"s":"S054","g":2,"t":"2022-11-26T04:23:00Z","f":6.74e-9},
      {"s":"S054","g":3,"t":"2022-11-26T04:31:00Z","f":6.74e-9},
      {"s":"S054","g":3,"t":"2022-11-26T04:33:00Z","f":3.42e-8},
      {"s":"S054","g":3,"t":"2022-11-26T04:36:00Z","f":2.2e-8},
      {"s":"S054","g":3,"t":"2022-11-26T04:43:00Z","f":7.09e-9},
      {"s":"S054","g":4,"t":"2022-11-26T04:57:00Z","f":6.6e-9},
      {"s":"S054","g":4,"t":"2022-11-26T04:59:00Z","f":6.24e-9},
      {"s":"S054","g":5,"t":"2022-11-26T05:18:00Z","f":8.2e-9},
      {"s":"S054","g":5,"t":"2022-11-26T05:22:00Z","f":6.12e-9},
      {"s":"S054","g":5,"t":"2022-11-26T05:26:00Z","f":7.82e-9},
      {"s":"S054","g":5,"t":"2022-11-26T05:34:00Z","f":6.12e-9},
      {"s":"S054","g":6,"t":"2022-11-26T05:52:00Z","f":7.09e-9},
      {"s":"S054","g":6,"t":"2022-11-26T05:54:00Z","f":6.6e-9},
      {"s":"S054","g":7,"t":"2022-11-26T06:08:00Z","f":7.44e-9},
      {"s":"S054","g":7,"t":"2022-11-26T06:10:00Z","f":6.88e-9},
      {"s":"S054","g":8,"t":"2022-11-26T06:33:00Z","f":6.42e-9},
      {"s":"S054","g":8,"t":"2022-11-26T06:35:00Z","f":3.26e-8},
      {"s":"S054","g":8,"t":"2022-11-26T06:39:00Z","f":6.74e-9},
      {"s":"S054","g":9,"t":"2022-11-26T06:56:00Z","f":6.88e-9},
      {"s":"S054","g":9,"t":"2022-11-26T06:58:00Z","f":6.42e-9},
      {"s":"S054","g":10,"t":"2022-11-26T07:16:00Z","f":6.74e-9},
      {"s":"S054","g":10,"t":"2022-11-26T07:20:00Z","f":1.16e-8},
      {"s":"S054","g":10,"t":"2022-11-26T07:24:00Z","f":6.42e-9},
      {"s":"S054","g":11,"t":"2022-11-26T07:40:00Z","f":6.74e-9},
      {"s":"S054","g":11,"t":"2022-11-26T07:44:00Z","f":1.22e-8},
      {"s":"S054","g":11,"t":"2022-11-26T07:47:00Z","f":6.74e-9},
      {"s":"S054","g":12,"t":"2022-11-26T08:04:00Z","f":7.3e-9},
      {"s":"S054","g":12,"t":"2022-11-26T08:06:00Z","f":6.88e-9},
      {"s":"S054","g":13,"t":"2022-11-26T08:23:00Z","f":7.82e-9},
      {"s":"S054","g":13,"t":"2022-11-26T08:26:00Z","f":1.22e-8},
      {"s":"S054","g":13,"t":"2022-11-26T08:30:00Z","f":2.2e-8},
      {"s":"S054","g":13,"t":"2022-11-26T08:34:00Z","f":1.0e-8},
      {"s":"S054","g":13,"t":"2022-11-26T08:38:00Z","f":6.74e-9},
      {"s":"S054","g":13,"t":"2022-11-26T08:42:00Z","f":9.06e-9},
      {"s":"S054","g":13,"t":"2022-11-26T08:46:00Z","f":6.12e-9},
      {"s":"S054","g":14,"t":"2022-11-26T10:44:00Z","f":6.74e-9},
      {"s":"S054","g":14,"t":"2022-11-26T10:46:00Z","f":3.97e-8},
      {"s":"S054","g":14,"t":"2022-11-26T10:50:00Z","f":1.64e-8},
      {"s":"S054","g":14,"t":"2022-11-26T10:56:00Z","f":6.74e-9},
      {"s":"S054","g":15,"t":"2022-11-26T13:24:00Z","f":7.3e-9},
      {"s":"S054","g":15,"t":"2022-11-26T13:26:00Z","f":6.6e-9},
      {"s":"S054","g":16,"t":"2022-11-26T13:59:00Z","f":7.3e-9},
      {"s":"S054","g":16,"t":"2022-11-26T14:01:00Z","f":6.42e-9},
      {"s":"S054","g":18,"t":"2022-11-26T15:24:00Z","f":8.2e-9},
      {"s":"S054","g":18,"t":"2022-11-26T15:26:00Z","f":6.24e-9},
      {"s":"S054","g":17,"t":"2022-11-26T16:45:00Z","f":8.2e-9},
      {"s":"S054","g":17,"t":"2022-11-26T16:49:00Z","f":6.12e-9},
      {"s":"S054","g":19,"t":"2022-11-27T02:31:00Z","f":7.9e-9},
      {"s":"S054","g":19,"t":"2022-11-27T02:33:00Z","f":7.6e-9},
      {"s":"S054","g":20,"t":"2022-11-27T02:58:00Z","f":6.42e-9},
      {"s":"S054","g":20,"t":"2022-11-27T03:04:00Z","f":9.5e-9},
      {"s":"S054","g":20,"t":"2022-11-27T03:08:00Z","f":7.82e-9},
      {"s":"S054","g":20,"t":"2022-11-27T03:12:00Z","f":6.24e-9},
      {"s":"S054","g":20,"t":"2022-11-27T03:18:00Z","f":7.44e-9},
      {"s":"S054","g":20,"t":"2022-11-27T03:21:00Z","f":6.24e-9},
      {"s":"S054","g":21,"t":"2022-11-27T14:25:00Z","f":7.44e-9},
      {"s":"S054","g":21,"t":"2022-11-27T14:27:00Z","f":6.74e-9},
      {"s":"S054","g":22,"t":"2022-11-27T14:37:00Z","f":1.0e-8},
      {"s":"S054","g":22,"t":"2022-11-27T14:39:00Z","f":6.74e-9},
      {"s":"S054","g":23,"t":"2022-11-27T15:10:00Z","f":7.09e-9},
      {"s":"S054","g":23,"t":"2022-11-27T15:12:00Z","f":6.42e-9},
      {"s":"S054","g":24,"t":"2022-11-27T15:44:00Z","f":6.74e-9},
      {"s":"S054","g":24,"t":"2022-11-27T15:50:00Z","f":7.82e-9},
      {"s":"S054","g":24,"t":"2022-11-27T15:56:00Z","f":1.72e-8},
      {"s":"S054","g":24,"t":"2022-11-27T16:00:00Z","f":9.06e-9},
      {"s":"S054","g":24,"t":"2022-11-27T16:04:00Z","f":1.64e-8},
      {"s":"S054","g":24,"t":"2022-11-27T16:10:00Z","f":7.09e-9},
      {"s":"S054","g":24,"t":"2022-11-27T16:16:00Z","f":1.48e-8},
      {"s":"S054","g":24,"t":"2022-11-27T16:21:00Z","f":6.74e-9},
      {"s":"S054","g":24,"t":"2022-11-27T16:28:00Z","f":1.34e-8},
      {"s":"S054","g":24,"t":"2022-11-27T16:34:00Z","f":6.12e-9},
      {"s":"S054","g":24,"t":"2022-11-27T16:39:00Z","f":1.16e-8},
      {"s":"S054","g":24,"t":"2022-11-27T16:45:00Z","f":6.74e-9},
      {"s":"S054","g":24,"t":"2022-11-27T16:51:00Z","f":9.06e-9},
      {"s":"S054","g":24,"t":"2022-11-27T16:57:00Z","f":7.82e-9},
      {"s":"S054","g":25,"t":"2022-11-27T17:10:00Z","f":8.2e-9},
      {"s":"S054","g":25,"t":"2022-11-27T17:13:00Z","f":6.24e-9},
      {"s":"S054","g":26,"t":"2022-11-27T17:22:00Z","f":8.2e-9},
      {"s":"S054","g":26,"t":"2022-11-27T17:24:00Z","f":6.12e-9},
      {"s":"S054","g":27,"t":"2022-11-27T17:44:00Z","f":1.0e-8},
      {"s":"S054","g":27,"t":"2022-11-27T17:47:00Z","f":6.74e-9},
      {"s":"S054","g":28,"t":"2022-11-27T18:01:00Z","f":7.09e-9},
      {"s":"S054","g":28,"t":"2022-11-27T18:03:00Z","f":6.42e-9},
      {"s":"S054","g":29,"t":"2022-11-27T18:20:00Z","f":8.63e-9},
      {"s":"S054","g":29,"t":"2022-11-27T18:22:00Z","f":7.09e-9},
      {"s":"S054","g":30,"t":"2022-11-27T18:32:00Z","f":7.09e-9},
      {"s":"S054","g":30,"t":"2022-11-27T18:34:00Z","f":6.74e-9},
      {"s":"S054","g":31,"t":"2022-11-28T00:50:00Z","f":1.0e-8},
      {"s":"S054","g":31,"t":"2022-11-28T00:58:00Z","f":1.48e-8},
      {"s":"S054","g":31,"t":"2022-11-28T01:06:00Z","f":7.09e-9},
      {"s":"S054","g":31,"t":"2022-11-28T01:14:00Z","f":1.1e-8},
      {"s":"S054","g":31,"t":"2022-11-28T01:30:00Z","f":6.74e-9},
      {"s":"S054","g":31,"t":"2022-11-28T01:37:00Z","f":1.16e-8},
      {"s":"S054","g":31,"t":"2022-11-28T01:45:00Z","f":1.48e-8},
      {"s":"S054","g":31,"t":"2022-11-28T01:49:00Z","f":6.74e-9},
      {"s":"S054","g":31,"t":"2022-11-28T02:01:00Z","f":1.22e-8},
      {"s":"S054","g":31,"t":"2022-11-28T02:05:00Z","f":1.72e-8},
      {"s":"S054","g":31,"t":"2022-11-28T02:17:00Z","f":1.22e-8},
      {"s":"S054","g":31,"t":"2022-11-28T02:24:00Z","f":1.16e-8},
      {"s":"S054","g":31,"t":"2022-11-28T02:32:00Z","f":1.1e-8},
      {"s":"S054","g":31,"t":"2022-11-28T02:39:00Z","f":2.67e-8},
      {"s":"S054","g":31,"t":"2022-11-28T02:48:00Z","f":1.34e-8},
      {"s":"S054","g":31,"t":"2022-11-28T03:04:00Z","f":1.28e-8},
      {"s":"S054","g":31,"t":"2022-11-28T03:19:00Z","f":1.22e-8},
      {"s":"S054","g":31,"t":"2022-11-28T03:31:00Z","f":1.0e-8},
      {"s":"S054","g":31,"t":"2022-11-28T03:43:00Z","f":1.34e-8},
      {"s":"S054","g":31,"t":"2022-11-28T03:59:00Z","f":1.41e-8},
      {"s":"S054","g":31,"t":"2022-11-28T04:14:00Z","f":1.28e-8},
      {"s":"S054","g":31,"t":"2022-11-28T04:30:00Z","f":1.34e-8},
      {"s":"S054","g":31,"t":"2022-11-28T04:46:00Z","f":1.41e-8},
      {"s":"S054","g":31,"t":"2022-11-28T04:56:00Z","f":2.09e-8},
      {"s":"S054","g":31,"t":"2022-11-28T05:09:00Z","f":1.22e-8},
      {"s":"S054","g":31,"t":"2022-11-28T05:25:00Z","f":1.1e-8},
      {"s":"S054","g":31,"t":"2022-11-28T05:37:00Z","f":1.0e-8},
      {"s":"S054","g":31,"t":"2022-11-28T05:49:00Z","f":7.44e-9},
      {"s":"S054","g":31,"t":"2022-11-28T05:56:00Z","f":6.12e-9},
      {"s":"S054","g":31,"t":"2022-11-28T06:03:00Z","f":8.2e-9},
      {"s":"S054","g":31,"t":"2022-11-28T06:11:00Z","f":6.42e-9},
      {"s":"S054","g":31,"t":"2022-11-28T06:19:00Z","f":7.82e-9},
      {"s":"S054","g":31,"t":"2022-11-28T06:27:00Z","f":6.12e-9},
      {"s":"S054","g":31,"t":"2022-11-28T06:34:00Z","f":7.44e-9},
      {"s":"S054","g":31,"t":"2022-11-28T06:42:00Z","f":1.22e-8},
      {"s":"S054","g":31,"t":"2022-11-28T06:50:00Z","f":6.74e-9},
      {"s":"S054","g":31,"t":"2022-11-28T06:58:00Z","f":9.06e-9},
      {"s":"S054","g":31,"t":"2022-11-28T07:06:00Z","f":1.0e-8},
      {"s":"S054","g":31,"t":"2022-11-28T07:12:00Z","f":1.22e-8},
      {"s":"S054","g":31,"t":"2022-11-28T07:16:00Z","f":2.81e-8},
      {"s":"S054","g":31,"t":"2022-11-28T07:22:00Z","f":1.48e-8},
      {"s":"S054","g":31,"t":"2022-11-28T07:29:00Z","f":1.1e-8},
      {"s":"S054","g":31,"t":"2022-11-28T07:37:00Z","f":1.0e-8},
      {"s":"S054","g":31,"t":"2022-11-28T07:45:00Z","f":8.2e-9},
      {"s":"S054","g":31,"t":"2022-11-28T07:53:00Z","f":7.09e-9},
      {"s":"S054","g":31,"t":"2022-11-28T08:01:00Z","f":7.82e-9},
      {"s":"S054","g":31,"t":"2022-11-28T08:09:00Z","f":6.12e-9},
      {"s":"S054","g":32,"t":"2022-11-28T08:25:00Z","f":7.09e-9},
      {"s":"S054","g":32,"t":"2022-11-28T08:27:00Z","f":6.42e-9},
      {"s":"S054","g":33,"t":"2022-11-28T08:42:00Z","f":7.82e-9},
      {"s":"S054","g":33,"t":"2022-11-28T08:50:00Z","f":6.42e-9},
      {"s":"S054","g":33,"t":"2022-11-28T08:56:00Z","f":9.06e-9},
      {"s":"S054","g":33,"t":"2022-11-28T09:02:00Z","f":6.12e-9},
      {"s":"S054","g":33,"t":"2022-11-28T09:10:00Z","f":7.6e-9},
      {"s":"S054","g":33,"t":"2022-11-28T09:19:00Z","f":8.2e-9},
      {"s":"S054","g":33,"t":"2022-11-28T09:25:00Z","f":6.42e-9},
      {"s":"S054","g":33,"t":"2022-11-28T09:31:00Z","f":6.12e-9},
      {"s":"S054","g":33,"t":"2022-11-28T09:43:00Z","f":7.44e-9},
      {"s":"S054","g":33,"t":"2022-11-28T09:51:00Z","f":1.16e-8},
      {"s":"S054","g":33,"t":"2022-11-28T09:55:00Z","f":1.28e-8},
      {"s":"S054","g":33,"t":"2022-11-28T09:59:00Z","f":6.74e-9},
      {"s":"S054","g":33,"t":"2022-11-28T10:06:00Z","f":7.82e-9},
      {"s":"S054","g":33,"t":"2022-11-28T10:14:00Z","f":9.06e-9},
      {"s":"S054","g":33,"t":"2022-11-28T10:22:00Z","f":6.42e-9},
      {"s":"S054","g":33,"t":"2022-11-28T10:34:00Z","f":1.1e-8},
      {"s":"S054","g":33,"t":"2022-11-28T10:42:00Z","f":6.74e-9},
      {"s":"S054","g":33,"t":"2022-11-28T10:54:00Z","f":8.2e-9},
      {"s":"S054","g":33,"t":"2022-11-28T11:01:00Z","f":6.42e-9},
      {"s":"S054","g":33,"t":"2022-11-28T11:09:00Z","f":7.44e-9},
      {"s":"S054","g":33,"t":"2022-11-28T11:17:00Z","f":9.06e-9},
      {"s":"S054","g":33,"t":"2022-11-28T11:25:00Z","f":1.22e-8},
      {"s":"S054","g":33,"t":"2022-11-28T11:33:00Z","f":6.74e-9},
      {"s":"S054","g":33,"t":"2022-11-28T11:41:00Z","f":8.2e-9},
      {"s":"S054","g":33,"t":"2022-11-28T11:48:00Z","f":7.09e-9},
      {"s":"S054","g":33,"t":"2022-11-28T11:56:00Z","f":6.12e-9},
      {"s":"S054","g":33,"t":"2022-11-28T12:04:00Z","f":1.0e-8},
      {"s":"S054","g":33,"t":"2022-11-28T12:12:00Z","f":7.44e-9},
      {"s":"S054","g":33,"t":"2022-11-28T12:20:00Z","f":9.06e-9},
      {"s":"S054","g":33,"t":"2022-11-28T12:28:00Z","f":6.12e-9},
      {"s":"S054","g":33,"t":"2022-11-28T12:34:00Z","f":7.82e-9},
      {"s":"S054","g":33,"t":"2022-11-28T12:40:00Z","f":7.09e-9},
      {"s":"S054","g":33,"t":"2022-11-28T12:47:00Z","f":1.0e-8},
      {"s":"S054","g":33,"t":"2022-11-28T12:51:00Z","f":2.95e-8},
      {"s":"S054","g":33,"t":"2022-11-28T12:55:00Z","f":6.74e-9},
      {"s":"S054","g":33,"t":"2022-11-28T13:03:00Z","f":7.82e-9},
      {"s":"S054","g":33,"t":"2022-11-28T13:15:00Z","f":6.42e-9},
      {"s":"S054","g":33,"t":"2022-11-28T13:27:00Z","f":8.2e-9},
      {"s":"S054","g":33,"t":"2022-11-28T13:38:00Z","f":6.74e-9},
      {"s":"S054","g":33,"t":"2022-11-28T13:46:00Z","f":9.06e-9},
      {"s":"S054","g":33,"t":"2022-11-28T13:54:00Z","f":7.44e-9},
      {"s":"S054","g":33,"t":"2022-11-28T14:02:00Z","f":1.05e-8},
      {"s":"S054","g":33,"t":"2022-11-28T14:10:00Z","f":6.12e-9},
      {"s":"S054","g":34,"t":"2022-11-28T16:00:00Z","f":6.74e-9},
      {"s":"S054","g":34,"t":"2022-11-28T16:04:00Z","f":1.22e-8},
      {"s":"S054","g":34,"t":"2022-11-28T16:08:00Z","f":6.12e-9},
      {"s":"S054","g":35,"t":"2022-11-28T20:03:00Z","f":6.74e-9},
      {"s":"S054","g":35,"t":"2022-11-28T20:09:00Z","f":1.34e-8},
      {"s":"S054","g":35,"t":"2022-11-28T20:11:00Z","f":3.97e-8},
      {"s":"S054","g":35,"t":"2022-11-28T20:17:00Z","f":1.64e-8},
      {"s":"S054","g":35,"t":"2022-11-28T20:23:00Z","f":9.06e-9},
      {"s":"S054","g":35,"t":"2022-11-28T20:27:00Z","f":7.82e-9},
      {"s":"S054","g":36,"t":"2022-11-28T21:02:00Z","f":9.5e-9},
      {"s":"S054","g":36,"t":"2022-11-28T21:06:00Z","f":8.2e-9},
      {"s":"S054","g":36,"t":"2022-11-28T21:14:00Z","f":1.48e-8},
      {"s":"S054","g":36,"t":"2022-11-28T21:18:00Z","f":3.26e-8},
      {"s":"S054","g":36,"t":"2022-11-28T21:22:00Z","f":1.64e-8},
      {"s":"S054","g":36,"t":"2022-11-28T21:26:00Z","f":9.5e-9},
      {"s":"S054","g":37,"t":"2022-11-28T21:48:00Z","f":6.74e-9},
      {"s":"S054","g":37,"t":"2022-11-28T21:49:00Z","f":1.34e-8},
      {"s":"S054","g":37,"t":"2022-11-28T21:52:00Z","f":6.74e-9},
      {"s":"S054","g":38,"t":"2022-11-28T22:09:00Z","f":6.74e-9},
      {"s":"S054","g":38,"t":"2022-11-28T22:11:00Z","f":1.0e-8},
      {"s":"S054","g":38,"t":"2022-11-28T22:14:00Z","f":6.42e-9},
      {"s":"S054","g":39,"t":"2022-11-28T22:20:00Z","f":7.44e-9},
      {"s":"S054","g":39,"t":"2022-11-28T22:29:00Z","f":6.12e-9},
      {"s":"S054","g":39,"t":"2022-11-28T22:34:00Z","f":1.1e-8},
      {"s":"S054","g":39,"t":"2022-11-28T22:38:00Z","f":6.12e-9},
      {"s":"S054","g":39,"t":"2022-11-28T22:44:00Z","f":8.2e-9},
      {"s":"S054","g":39,"t":"2022-11-28T22:50:00Z","f":6.42e-9},
      {"s":"S054","g":39,"t":"2022-11-28T22:56:00Z","f":9.06e-9},
      {"s":"S054","g":39,"t":"2022-11-28T23:02:00Z","f":6.74e-9},
      {"s":"S054","g":40,"t":"2022-11-28T23:25:00Z","f":7.3e-9},
      {"s":"S054","g":40,"t":"2022-11-28T23:27:00Z","f":6.88e-9}
    ]
  },
  "encoding": {
    "x": {
      "field": "t",
      "type": "temporal",
      "scale": {"type": "utc", "domain": [1669420800000, 1669680000000]},
      "axis": {
        "values": [1669420800000, 1669449600000, 1669478400000, 1669507200000, 1669536000000, 1669564800000, 1669593600000, 1669622400000, 1669651200000, 1669680000000],
        "labelExpr": "utcFormat(datum.value, '%H:%M') == '00:00' ? [utcFormat(datum.value, '%H:%M'), utcFormat(datum.value, '%b %d')] : utcFormat(datum.value, '%H:%M')",
        "labelFontSize": 20,
        "labelLineHeight": 23,
        "labelPadding": 13,
        "labelFlush": false,
        "tickSize": -8,
        "tickWidth": 1,
        "grid": false,
        "title": "Time (UTC)",
        "titleFontSize": 20,
        "titlePadding": 5
      }
    }
  },
  "layer": [
    {
      "transform": [{"filter": "datum.s == 'S18'"}],
      "mark": {"type": "line", "strokeWidth": 1.5},
      "encoding": {
        "y": {
          "field": "f",
          "type": "quantitative",
          "scale": {"type": "log", "domain": [1e-9, 1e-2], "nice": false},
          "axis": {
            "orient": "left",
            "zindex": 0,
            "values": [1e-9,2e-9,3e-9,4e-9,5e-9,6e-9,7e-9,8e-9,9e-9,1e-8,2e-8,3e-8,4e-8,5e-8,6e-8,7e-8,8e-8,9e-8,1e-7,2e-7,3e-7,4e-7,5e-7,6e-7,7e-7,8e-7,9e-7,1e-6,2e-6,3e-6,4e-6,5e-6,6e-6,7e-6,8e-6,9e-6,1e-5,2e-5,3e-5,4e-5,5e-5,6e-5,7e-5,8e-5,9e-5,1e-4,2e-4,3e-4,4e-4,5e-4,6e-4,7e-4,8e-4,9e-4,1e-3,2e-3,3e-3,4e-3,5e-3,6e-3,7e-3,8e-3,9e-3,1e-2],
            "labelExpr": "abs(log(datum.value)/LN10 - round(log(datum.value)/LN10)) < 0.001 && round(log(datum.value)/LN10) <= -3 && round(log(datum.value)/LN10) >= -8 ? '10⁻' + ['⁰','¹','²','³','⁴','⁵','⁶','⁷','⁸','⁹'][-round(log(datum.value)/LN10)] : ''",
            "labelFontSize": 20,
            "labelPadding": 14,
            "tickSize": -8,
            "tickWidth": 1,
            "grid": true,
            "gridColor": "#b0b0b0",
            "gridWidth": 1,
            "gridOpacity": {"condition": {"test": "abs(log(datum.value)/LN10 - round(log(datum.value)/LN10)) < 0.001", "value": 1}, "value": 0},
            "title": "Flux (Watts · m⁻²)",
            "titleFontSize": 20,
            "titlePadding": 16
          }
        },
        "color": {
          "field": "s",
          "type": "nominal",
          "scale": {"domain": ["S18", "S054", "P18", "P054"], "range": ["#ffa500", "#00ffff", "#ff0000", "#0000ff"]},
          "legend": {
            "orient": "none",
            "legendX": 739,
            "legendY": 8,
            "columns": 2,
            "title": null,
            "labelExpr": "datum.label == 'S18' ? 'S GOES 1.0-8.0 Å' : datum.label == 'P18' ? 'P GOES 1.0-8.0 Å' : datum.label == 'S054' ? 'S GOES 0.5-4.0 Å' : 'P GOES 0.5-4.0 Å'",
            "symbolType": "stroke",
            "symbolSize": 900,
            "symbolStrokeWidth": 1.5,
            "labelFontSize": 13,
            "labelColor": "black",
            "labelOffset": 11,
            "columnPadding": 30,
            "rowPadding": 2,
            "padding": 6,
            "strokeColor": "#cccccc",
            "fillColor": "white",
            "cornerRadius": 4
          }
        },
        "detail": {"field": "g", "type": "nominal"}
      }
    },
    {
      "transform": [{"filter": "datum.s == 'S054'"}],
      "mark": {"type": "line", "strokeWidth": 1.5},
      "encoding": {
        "y": {"field": "f", "type": "quantitative", "scale": {"type": "log", "domain": [1e-9, 1e-2], "nice": false}, "axis": null},
        "color": {"field": "s", "type": "nominal", "scale": {"domain": ["S18", "S054", "P18", "P054"], "range": ["#ffa500", "#00ffff", "#ff0000", "#0000ff"]}},
        "detail": {"field": "g", "type": "nominal"}
      }
    },
    {
      "transform": [{"filter": "datum.s == 'P18'"}],
      "mark": {"type": "line", "strokeWidth": 1.8},
      "encoding": {
        "y": {"field": "f", "type": "quantitative", "scale": {"type": "log", "domain": [1e-9, 1e-2], "nice": false}, "axis": null},
        "color": {"field": "s", "type": "nominal", "scale": {"domain": ["S18", "S054", "P18", "P054"], "range": ["#ffa500", "#00ffff", "#ff0000", "#0000ff"]}},
        "detail": {"field": "g", "type": "nominal"}
      }
    },
    {
      "transform": [{"filter": "datum.s == 'P054'"}],
      "mark": {"type": "line", "strokeWidth": 2},
      "encoding": {
        "y": {"field": "f", "type": "quantitative", "scale": {"type": "log", "domain": [1e-9, 1e-2], "nice": false}, "axis": null},
        "color": {"field": "s", "type": "nominal", "scale": {"domain": ["S18", "S054", "P18", "P054"], "range": ["#ffa500", "#00ffff", "#ff0000", "#0000ff"]}},
        "detail": {"field": "g", "type": "nominal"}
      }
    },
    {
      "data": {"values": [{"t": "2022-11-27T00:00:00Z"}, {"t": "2022-11-28T00:00:00Z"}]},
      "mark": {"type": "rule", "color": "black", "strokeWidth": 1.5},
      "encoding": {}
    },
    {
      "data": {"values": [{"t": "2022-11-28T18:14:00Z", "f": 1.7e-9, "label": "Generated : 28-Nov-2022 23:33 UTC"}]},
      "mark": {"type": "text", "fontSize": 11, "align": "center", "baseline": "middle", "color": "black"},
      "encoding": {
        "text": {"field": "label"},
        "y": {
          "field": "f",
          "type": "quantitative",
          "scale": {"type": "log", "domain": [1e-9, 1e-2], "nice": false},
          "axis": {
            "orient": "right",
            "values": [1e-9,2e-9,3e-9,4e-9,5e-9,6e-9,7e-9,8e-9,9e-9,1e-8,2e-8,3e-8,4e-8,5e-8,6e-8,7e-8,8e-8,9e-8,1e-7,2e-7,3e-7,4e-7,5e-7,6e-7,7e-7,8e-7,9e-7,1e-6,2e-6,3e-6,4e-6,5e-6,6e-6,7e-6,8e-6,9e-6,1e-5,2e-5,3e-5,4e-5,5e-5,6e-5,7e-5,8e-5,9e-5,1e-4,2e-4,3e-4,4e-4,5e-4,6e-4,7e-4,8e-4,9e-4,1e-3,2e-3,3e-3,4e-3,5e-3,6e-3,7e-3,8e-3,9e-3,1e-2,3.16228e-8,3.16228e-7,3.16228e-6,3.16228e-5,3.16228e-4],
            "labelExpr": "abs(log(datum.value)/LN10 - floor(log(datum.value)/LN10) - 0.5) < 0.005 ? ['A','B','C','M','X'][floor(log(datum.value)/LN10) + 8] : ''",
            "labelFontSize": 20,
            "labelPadding": 12,
            "tickSize": -8,
            "tickWidth": 1,
            "tickOpacity": {"condition": {"test": "abs(log(datum.value)/LN10 - floor(log(datum.value)/LN10) - 0.5) < 0.005", "value": 0}, "value": 1},
            "grid": false,
            "title": "GOES Class",
            "titleFontSize": 20,
            "titleAngle": 270,
            "titlePadding": 32
          }
        }
      }
    }
  ],
  "resolve": {"axis": {"y": "independent"}}
}
